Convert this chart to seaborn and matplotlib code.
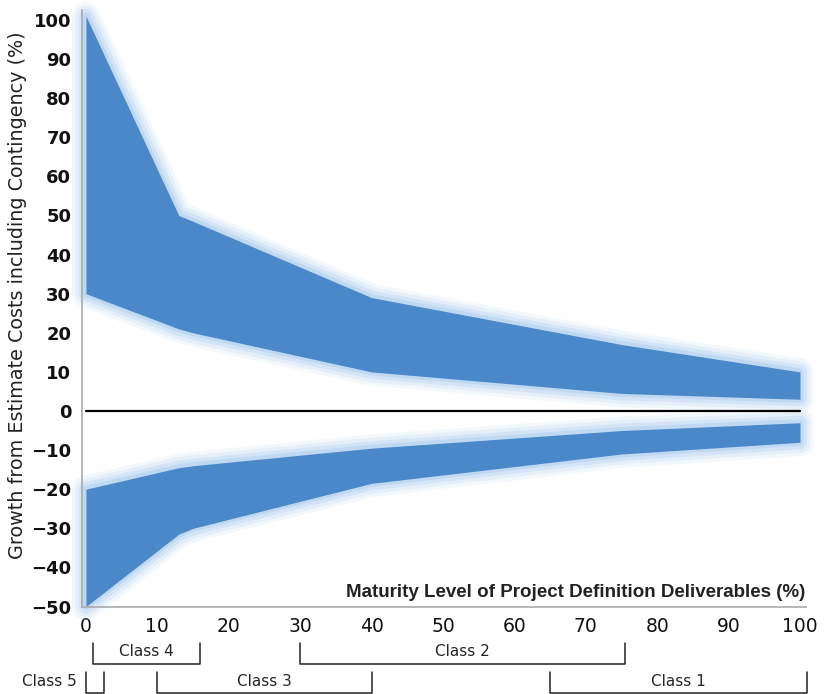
import numpy as np
import pandas as pd
import matplotlib
matplotlib.use('Agg')
import matplotlib.pyplot as plt
import matplotlib.transforms as mtransforms
import seaborn as sns

# Accuracy range bands (growth %, upper band above zero and lower band below zero)
maturity = [0, 13, 15, 40, 75, 100]
upper_hi = [101, 50, 48.5, 29, 17, 10]
upper_lo = [30, 21, 20, 10, 4.5, 3]
lower_hi = [-20, -14.5, -14, -9.5, -5, -3]
lower_lo = [-50, -31.5, -30, -18.5, -11, -8]

x_ticks = [0, 10, 20, 30, 40, 50, 60, 70, 80, 90, 100]
y_ticks = [100, 90, 80, 70, 60, 50, 40, 30, 20, 10, 0, -10, -20, -30, -40, -50]

# Estimate class ranges (maturity %), row 0 = upper row, row 1 = lower row
class_names = ['Class 4', 'Class 2', 'Class 5', 'Class 3', 'Class 1']
class_start = [1, 30, 0, 10, 65]
class_end = [16, 75.5, 2.5, 40, 101]
class_row = [0, 0, 1, 1, 1]

BLUE = '#4a88c9'
GLOW = '#b3d2f0'

sns.set_style('white')

df = pd.DataFrame({'maturity': maturity, 'upper_hi': upper_hi, 'upper_lo': upper_lo,
                   'lower_hi': lower_hi, 'lower_lo': lower_lo})

fig = plt.figure(figsize=(8.36, 6.94), dpi=100)
ax = fig.add_axes([82.4 / 836, 86.7 / 694, 723.3 / 836, 597.1 / 694])

# Bands with soft glow edge
for hi, lo in [('upper_hi', 'upper_lo'), ('lower_hi', 'lower_lo')]:
    xs = list(df['maturity']) + list(df['maturity'][::-1])
    ys = list(df[hi]) + list(df[lo][::-1])
    for lw, a in [(20, 0.15), (15, 0.22), (10, 0.35), (5, 0.6)]:
        ax.fill(xs, ys, facecolor='none', edgecolor=GLOW, lw=lw, alpha=a,
                joinstyle='round', clip_on=False, zorder=1)
    ax.fill_between(df['maturity'], df[lo], df[hi], color=BLUE, lw=0, zorder=2)

# Zero line
sns.lineplot(x=[0, 100], y=[0, 0], color='black', lw=1.6, ax=ax, zorder=3)

ax.set_xlim(-0.5, 100.8)
ax.set_ylim(-50.2, 102.5)
ax.set_xticks(x_ticks)
ax.set_yticks(y_ticks)
ax.set_xticklabels([str(v) for v in x_ticks], fontsize=13.5, color='#111111')
ax.set_yticklabels([str(v).replace('-', '\u2212') for v in y_ticks], fontsize=13,
                   fontweight='bold', color='#111111')
ax.tick_params(axis='y', direction='out', length=5, color='#999999', pad=3)
ax.tick_params(axis='x', direction='in', length=5, color='#999999', pad=7)

for side in ['top', 'right']:
    ax.spines[side].set_visible(False)
for side in ['left', 'bottom']:
    ax.spines[side].set_color('#aaaaaa')
    ax.spines[side].set_linewidth(1.2)

ax.set_ylabel('Growth from Estimate Costs including Contingency (%)', fontsize=13.8,
              color='#222222')
ax.yaxis.set_label_coords(-0.076, 0.523)

ax.text(100.8, -46.5, 'Maturity Level of Project Definition Deliverables (%)',
        ha='right', va='center', fontsize=13.5, fontweight='bold',
        family=['Liberation Sans', 'DejaVu Sans'], color='#222222',
        bbox=dict(facecolor='white', edgecolor='none', pad=3), zorder=4)

# Class brackets below the axis
trans = mtransforms.blended_transform_factory(ax.transData, fig.transFigure)
row_top = [1 - 643 / 694, 1 - 672 / 694]
row_bot = [1 - 664 / 694, 1 - 693 / 694]
row_txt = [1 - 652 / 694, 1 - 682 / 694]
for name, s, e, r in zip(class_names, class_start, class_end, class_row):
    ax.plot([s, s, e, e], [row_top[r], row_bot[r], row_bot[r], row_top[r]],
            color='#222222', lw=1.1, transform=trans, clip_on=False)
    if name == 'Class 5':
        ax.text(s - 1.3, row_txt[r], name, ha='right', va='center', fontsize=11,
                family=['Liberation Sans Narrow', 'DejaVu Sans'], transform=trans)
    else:
        ax.text((s + e) / 2, row_txt[r], name, ha='center', va='center', fontsize=11,
                family=['Liberation Sans Narrow', 'DejaVu Sans'], transform=trans)

fig.savefig('out.png', dpi=100)
